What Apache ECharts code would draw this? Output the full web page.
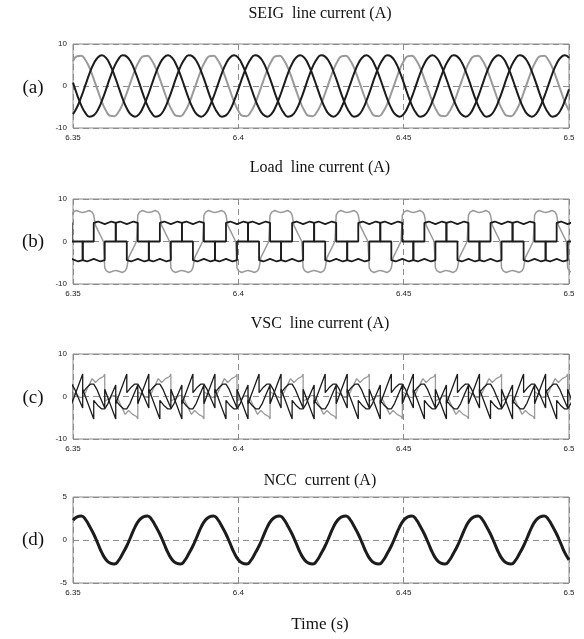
<!DOCTYPE html>
<html>
<head>
<meta charset="utf-8">
<title>SEIG / Load / VSC / NCC currents</title>
<script src="https://cdn.jsdelivr.net/npm/echarts@6.0.0/dist/echarts.min.js"></script>
<style>
  html, body { margin: 0; padding: 0; background: #fff; }
  #main { width: 584px; height: 639px; }
</style>
</head>
<body>
<div id="main"></div>
<script>
// 时间轴：6.35 s ~ 6.5 s
var tickLabels = ['6.35', '6.4', '6.45', '6.5'];
var sampleStart = 6.35, sampleStep = 0.00125;

// (a) SEIG 三相电流，每 1.25 ms 读一个点
var seigGray = [
  5.9, 7.1, 7.2, 6.2, 4.3, 1.7, -1.1, -3.8, -5.9, -7.1, -7.2, -6.2, -4.3, -1.7, 1.1, 3.8,
  5.9, 7.1, 7.2, 6.2, 4.3, 1.7, -1.1, -3.8, -5.9, -7.1, -7.2, -6.2, -4.3, -1.7, 1.1, 3.8,
  5.9, 7.1, 7.2, 6.2, 4.3, 1.7, -1.1, -3.8, -5.9, -7.1, -7.2, -6.2, -4.3, -1.7, 1.1, 3.8,
  5.9, 7.1, 7.2, 6.2, 4.3, 1.7, -1.1, -3.8, -5.9, -7.1, -7.2, -6.2, -4.3, -1.7, 1.1, 3.8,
  5.9, 7.1, 7.2, 6.2, 4.3, 1.7, -1.1, -3.8, -5.9, -7.1, -7.2, -6.2, -4.3, -1.7, 1.1, 3.8,
  5.9, 7.1, 7.2, 6.2, 4.3, 1.7, -1.1, -3.8, -5.9, -7.1, -7.2, -6.2, -4.3, -1.7, 1.1, 3.8,
  5.9, 7.1, 7.2, 6.2, 4.3, 1.7, -1.1, -3.8, -5.9, -7.1, -7.2, -6.2, -4.3, -1.7, 1.1, 3.8,
  5.9, 7.1, 7.2, 6.2, 4.3, 1.7, -1.1, -3.8, -5.9
];
var seigDark1 = [
  -6.7, -5.0, -2.6, 0.2, 3.0, 5.3, 6.8, 7.3, 6.7, 5.0, 2.6, -0.2, -3.0, -5.3, -6.8, -7.3,
  -6.7, -5.0, -2.6, 0.2, 3.0, 5.3, 6.8, 7.3, 6.7, 5.0, 2.6, -0.2, -3.0, -5.3, -6.8, -7.3,
  -6.7, -5.0, -2.6, 0.2, 3.0, 5.3, 6.8, 7.3, 6.7, 5.0, 2.6, -0.2, -3.0, -5.3, -6.8, -7.3,
  -6.7, -5.0, -2.6, 0.2, 3.0, 5.3, 6.8, 7.3, 6.7, 5.0, 2.6, -0.2, -3.0, -5.3, -6.8, -7.3,
  -6.7, -5.0, -2.6, 0.2, 3.0, 5.3, 6.8, 7.3, 6.7, 5.0, 2.6, -0.2, -3.0, -5.3, -6.8, -7.3,
  -6.7, -5.0, -2.6, 0.2, 3.0, 5.3, 6.8, 7.3, 6.7, 5.0, 2.6, -0.2, -3.0, -5.3, -6.8, -7.3,
  -6.7, -5.0, -2.6, 0.2, 3.0, 5.3, 6.8, 7.3, 6.7, 5.0, 2.6, -0.2, -3.0, -5.3, -6.8, -7.3,
  -6.7, -5.0, -2.6, 0.2, 3.0, 5.3, 6.8, 7.3, 6.7
];
var seigDark2 = [
  0.8, -2.1, -4.6, -6.4, -7.3, -7.0, -5.7, -3.5, -0.8, 2.1, 4.6, 6.4, 7.3, 7.0, 5.7, 3.5,
  0.8, -2.1, -4.6, -6.4, -7.3, -7.0, -5.7, -3.5, -0.8, 2.1, 4.6, 6.4, 7.3, 7.0, 5.7, 3.5,
  0.8, -2.1, -4.6, -6.4, -7.3, -7.0, -5.7, -3.5, -0.8, 2.1, 4.6, 6.4, 7.3, 7.0, 5.7, 3.5,
  0.8, -2.1, -4.6, -6.4, -7.3, -7.0, -5.7, -3.5, -0.8, 2.1, 4.6, 6.4, 7.3, 7.0, 5.7, 3.5,
  0.8, -2.1, -4.6, -6.4, -7.3, -7.0, -5.7, -3.5, -0.8, 2.1, 4.6, 6.4, 7.3, 7.0, 5.7, 3.5,
  0.8, -2.1, -4.6, -6.4, -7.3, -7.0, -5.7, -3.5, -0.8, 2.1, 4.6, 6.4, 7.3, 7.0, 5.7, 3.5,
  0.8, -2.1, -4.6, -6.4, -7.3, -7.0, -5.7, -3.5, -0.8, 2.1, 4.6, 6.4, 7.3, 7.0, 5.7, 3.5,
  0.8, -2.1, -4.6, -6.4, -7.3, -7.0, -5.7, -3.5, -0.8
];

// (d) NCC 电流
var nccCurrent = [
  2.3, 2.7, 2.8, 2.4, 1.6, 0.7, -0.4, -1.5, -2.3, -2.7, -2.8, -2.4, -1.6, -0.7, 0.4, 1.5,
  2.3, 2.7, 2.8, 2.4, 1.6, 0.7, -0.4, -1.5, -2.3, -2.7, -2.8, -2.4, -1.6, -0.7, 0.4, 1.5,
  2.3, 2.7, 2.8, 2.4, 1.6, 0.7, -0.4, -1.5, -2.3, -2.7, -2.8, -2.4, -1.6, -0.7, 0.4, 1.5,
  2.3, 2.7, 2.8, 2.4, 1.6, 0.7, -0.4, -1.5, -2.3, -2.7, -2.8, -2.4, -1.6, -0.7, 0.4, 1.5,
  2.3, 2.7, 2.8, 2.4, 1.6, 0.7, -0.4, -1.5, -2.3, -2.7, -2.8, -2.4, -1.6, -0.7, 0.4, 1.5,
  2.3, 2.7, 2.8, 2.4, 1.6, 0.7, -0.4, -1.5, -2.3, -2.7, -2.8, -2.4, -1.6, -0.7, 0.4, 1.5,
  2.3, 2.7, 2.8, 2.4, 1.6, 0.7, -0.4, -1.5, -2.3, -2.7, -2.8, -2.4, -1.6, -0.7, 0.4, 1.5,
  2.3, 2.7, 2.8, 2.4, 1.6, 0.7, -0.4, -1.5, -2.3
];

// (b)(c) 一个周期 (20 ms) 的折点 [ms, A]，每个周期起点见 cycleStarts
var cycleStarts = [6.3296, 6.3496, 6.3696, 6.3896, 6.4096, 6.4296, 6.4496, 6.4696, 6.4896];

var loadGrayCycle = [
  [0, 0], [0, 6.2], [0.5, 6.9], [1.4, 7.3], [2.4, 7.0], [3.3, 6.8], [4.3, 7.0], [5.3, 7.3],
  [6.2, 6.9], [6.67, 6.2], [7.2, 3.8], [9.6, 0], [10, 0],
  [10, -6.2], [10.5, -6.9], [11.4, -7.3], [12.4, -7.0], [13.3, -6.8], [14.3, -7.0], [15.3, -7.3],
  [16.2, -6.9], [16.67, -6.2], [17.2, -3.8], [19.6, 0]
];
var loadDark1Cycle = [
  [0, -4.1], [2.0, -4.7], [3.33, -4.4], [3.33, 0], [6.67, 0],
  [6.67, 4.4], [8.0, 4.7], [10, 4.1], [12.0, 4.7], [13.33, 4.4], [13.33, 0], [16.67, 0],
  [16.67, -4.4], [18.0, -4.7]
];
var loadDark2Cycle = [
  [0, 0], [3.33, 0], [3.33, -4.4], [4.67, -4.7], [6.67, -4.1], [8.67, -4.7], [10, -4.4], [10, 0],
  [13.33, 0], [13.33, 4.4], [14.67, 4.7], [16.67, 4.1], [18.67, 4.7], [20, 4.4], [20, 0]
];

var vscGrayCycle = [
  [0, 1.1], [0.5, 0.9], [1.4, 0.4], [2.4, -0.2], [3.3, -0.2], [4.3, 1.1], [5.3, 2.8], [6.2, 4.2],
  [6.67, 4.6], [7.2, 3.3], [8.4, 4.2], [9.6, 4.7], [10, 5.3],
  [10, -1.1], [10.5, -0.9], [11.4, -0.4], [12.4, 0.2], [13.3, 0.2], [14.3, -1.1], [15.3, -2.8], [16.2, -4.2],
  [16.67, -4.6], [17.2, -3.3], [18.4, -4.2], [19.6, -4.7], [20, -5.3]
];
var vscDark1Cycle = [
  [0, 2.9], [1, 1.6], [2, -0.3], [3.33, -2.7], [3.33, 1.7], [6.67, -5.3], [6.67, -0.9],
  [8, -2.2], [9, -2.9], [10, -2.9], [11, -1.6], [12, 0.3], [13.33, 2.7], [13.33, -1.7],
  [16.67, 5.3], [16.67, 0.9], [18, 2.2], [19, 2.9]
];
var vscDark2Cycle = [
  [0, -1.7], [3.33, 5.3], [3.33, 0.9], [4.67, 2.2], [5.67, 2.9], [6.67, 2.9], [7.67, 1.6],
  [8.67, -0.3], [10, -2.7], [10, 1.7], [13.33, -5.3], [13.33, -0.9], [14.67, -2.2], [15.67, -2.9],
  [16.67, -2.9], [17.67, -1.6], [18.67, 0.3], [20, 2.7]
];

var panelTitles = ['SEIG  line current (A)', 'Load  line current (A)', 'VSC  line current (A)', 'NCC  current (A)'];
var panelTags = ['(a)', '(b)', '(c)', '(d)'];

// ---------- 组装数据 ----------
function sampled(values) {
  return values.map(function (v, i) {
    return [+(sampleStart + i * sampleStep).toFixed(5), v];
  });
}
function cycles(cycle) {
  var out = [];
  cycleStarts.forEach(function (t0) {
    cycle.forEach(function (p) {
      out.push([+(t0 + p[0] / 1000).toFixed(5), p[1]]);
    });
  });
  return out;
}

var chart = echarts.init(document.getElementById('main'));

var gridTops = [44, 199, 354, 497];
var gridHeights = [84, 85, 85, 86];
var titleY = [14, 168, 324, 481];
var tagY = [88, 242, 398, 540];

var DARK = '#1c1c1c', GRAY = '#9a9a9a';
var tickFont = 'Liberation Sans Narrow, Liberation Sans, sans-serif';
var serif = 'Liberation Serif, Times New Roman, serif';

var grids = [], xAxes = [], yAxes = [], graphics = [];
for (var i = 0; i < 4; i++) {
  grids.push({
    left: 73, right: 15, top: gridTops[i], height: gridHeights[i],
    show: true, borderColor: '#8c8c8c', borderWidth: 1, backgroundColor: 'transparent'
  });
  xAxes.push({
    type: 'value', gridIndex: i, min: 6.35, max: 6.5, interval: 0.05,
    axisLine: { show: false }, axisTick: { show: false },
    axisLabel: {
      fontSize: 8, fontFamily: tickFont, color: '#222', margin: 6,
      formatter: function (v) { return tickLabels[Math.round((v - 6.35) / 0.05)]; }
    },
    splitLine: { show: true, lineStyle: { color: '#8c8c8c', type: [6, 4], width: 1 } }
  });
  var yr = i === 3 ? 5 : 10;
  yAxes.push({
    type: 'value', gridIndex: i, min: -yr, max: yr, interval: yr,
    axisLine: { show: false }, axisTick: { show: false },
    axisLabel: { fontSize: 8, fontFamily: tickFont, color: '#222', margin: 6 },
    splitLine: { show: true, lineStyle: { color: '#8c8c8c', type: [6, 4], width: 1 } }
  });
  graphics.push({
    type: 'text', x: 320, y: titleY[i],
    style: { text: panelTitles[i], font: '16px ' + serif, fill: '#111', textAlign: 'center', textVerticalAlign: 'middle' }
  });
  graphics.push({
    type: 'text', x: 33, y: tagY[i],
    style: { text: panelTags[i], font: '19px ' + serif, fill: '#111', textAlign: 'center', textVerticalAlign: 'middle' }
  });
}
graphics.push({
  type: 'text', x: 320, y: 625,
  style: { text: 'Time (s)', font: '17px ' + serif, fill: '#111', textAlign: 'center', textVerticalAlign: 'middle' }
});

function line(idx, data, color, width, smooth) {
  return {
    type: 'line', xAxisIndex: idx, yAxisIndex: idx, data: data,
    showSymbol: false, smooth: smooth, clip: true, silent: true,
    lineStyle: { color: color, width: width }
  };
}

var option = {
  animation: false,
  backgroundColor: '#fff',
  grid: grids,
  xAxis: xAxes,
  yAxis: yAxes,
  graphic: graphics,
  series: [
    line(0, sampled(seigGray), GRAY, 2, true),
    line(0, sampled(seigDark1), DARK, 2, true),
    line(0, sampled(seigDark2), DARK, 2, true),

    line(1, cycles(loadGrayCycle), GRAY, 1.5, false),
    line(1, cycles(loadDark1Cycle), DARK, 1.8, false),
    line(1, cycles(loadDark2Cycle), DARK, 1.8, false),

    line(2, cycles(vscGrayCycle), GRAY, 1.3, false),
    line(2, cycles(vscDark1Cycle), DARK, 1.3, false),
    line(2, cycles(vscDark2Cycle), DARK, 1.3, false),

    line(3, sampled(nccCurrent), DARK, 3, true)
  ]
};

chart.setOption(option);
</script>
</body>
</html>
